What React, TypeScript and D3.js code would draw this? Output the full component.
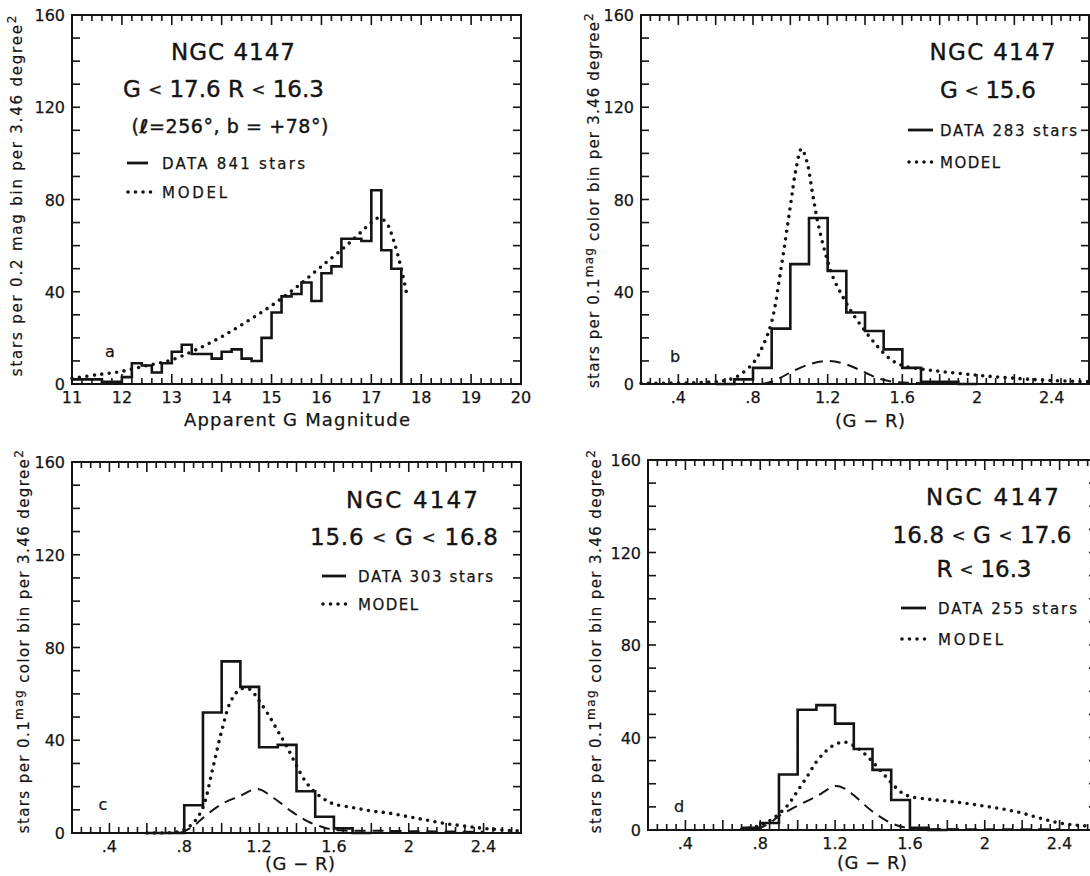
import React from 'react';
import * as d3 from 'd3';

const W = 1090;
const H = 876;
const FONT = "'DejaVu Sans', 'Liberation Sans', sans-serif";
const INK = '#141414';

// ---------- Panel a : apparent G magnitude ----------
const magBinStart = 11.0;
const magBinWidth = 0.2;
const magCounts = [2, 2, 2, 1, 1, 3, 9, 8, 5, 9, 14, 17, 13, 13, 11, 14, 15, 11, 10, 20, 31, 38, 39, 44, 36, 48, 51, 63, 63, 62, 84, 58, 50];
const magModel: [number, number][] = [
  [11, 2.5], [11.5, 4], [12, 5.5], [12.5, 8], [13, 10.5], [13.5, 15], [14, 20.5], [14.5, 27], [15, 34],
  [15.5, 42], [16, 51], [16.5, 60], [16.8, 66], [17, 70], [17.15, 72], [17.3, 70], [17.45, 62], [17.6, 50], [17.7, 40],
];
const magTickLabels = [11, 12, 13, 14, 15, 16, 17, 18, 19, 20];

// ---------- colour panels (G - R) ----------
const colorBinWidth = 0.1;
const colorTickLabels = [0.4, 0.8, 1.2, 1.6, 2.0, 2.4];
const yTickLabels = [0, 40, 80, 120, 160];

// panel b : G < 15.6
const bBinStart = 0.6;
const bCounts = [0, 2, 7, 24, 52, 72, 49, 31, 23, 15, 7, 1, 1, 0];
const bModel: [number, number][] = [
  [0.2, 0.3], [0.5, 0.6], [0.65, 1.5], [0.72, 3.5], [0.8, 9], [0.85, 16], [0.9, 27], [0.95, 50], [1.0, 77],
  [1.03, 93], [1.06, 102], [1.09, 96], [1.12, 82], [1.15, 69], [1.19, 56], [1.23, 46], [1.28, 38], [1.33, 31],
  [1.4, 23], [1.47, 16], [1.54, 10.5], [1.6, 8], [1.7, 6.5], [1.8, 5.5], [2.0, 3.8], [2.2, 2.5], [2.4, 1.5], [2.6, 1],
];
const bHalo: [number, number][] = [
  [0.85, 0], [0.9, 1], [0.95, 2.8], [1.0, 5], [1.1, 8.5], [1.2, 10], [1.3, 8.5], [1.4, 5], [1.47, 2.5],
  [1.55, 1], [1.65, 0.5], [1.9, 0.3],
];

// panel c : 15.6 < G < 16.8
const cBinStart = 0.6;
const cCounts = [0, 0, 12, 52, 74, 63, 37, 38, 18, 7, 2, 0];
const cModel: [number, number][] = [
  [0.6, 0], [0.75, 0.3], [0.8, 1.5], [0.85, 4.5], [0.9, 11], [0.95, 27], [1.0, 44], [1.05, 57], [1.1, 62],
  [1.15, 62], [1.2, 57], [1.25, 51], [1.3, 44], [1.35, 37], [1.4, 29], [1.45, 22], [1.5, 17.5], [1.55, 14.5],
  [1.6, 12.5], [1.7, 11], [1.8, 9.5], [1.9, 8.5], [2.0, 7], [2.1, 5.5], [2.2, 4], [2.3, 3], [2.4, 2], [2.5, 1.3], [2.6, 0.8],
];
const cHalo: [number, number][] = [
  [0.78, 0], [0.85, 3], [0.9, 6.5], [1.0, 12.5], [1.1, 16], [1.19, 19], [1.28, 15], [1.37, 9.5], [1.46, 5],
  [1.55, 2.3], [1.63, 1.2], [1.8, 1], [2.0, 0.8], [2.4, 0.5],
];

// panel d : 16.8 < G < 17.6, R < 16.3
const dBinStart = 0.7;
const dCounts = [1, 3, 24, 52, 54, 46, 35, 26, 13, 1, 0];
const dModel: [number, number][] = [
  [0.7, 0.3], [0.8, 2], [0.85, 4], [0.9, 7], [0.95, 11], [1.0, 17], [1.05, 23], [1.1, 29.5], [1.15, 34],
  [1.2, 37], [1.25, 38], [1.3, 36.5], [1.35, 33.5], [1.4, 29.5], [1.45, 25], [1.5, 20.5], [1.55, 16.5],
  [1.6, 14.5], [1.7, 13.3], [1.8, 12.5], [1.9, 11.5], [2.0, 10.3], [2.1, 9], [2.2, 7.3], [2.3, 5], [2.4, 3],
  [2.5, 2], [2.6, 1.5],
];
const dHalo: [number, number][] = [
  [0.78, 0], [0.85, 3], [0.9, 6], [1.0, 10.5], [1.1, 14.5], [1.2, 19], [1.25, 18], [1.3, 15], [1.4, 8],
  [1.5, 3], [1.6, 0.7], [1.8, 0.4], [2.4, 0.3],
];

type Box = { l: number; r: number; t: number; b: number };

const colorFmt = (v: number) => {
  const s = d3.format('.1f')(v);
  if (s.endsWith('.0')) return s.slice(0, -2);
  return s.startsWith('0') ? s.slice(1) : s;
};

// render "<" smaller, like the hand lettering of the original
function withSmallLt(s: string, size: number) {
  const parts = s.split('<');
  const out: any[] = [];
  parts.forEach((p, i) => {
    if (i > 0) out.push(<tspan key={'lt' + i} fontSize={size * 0.72} dy={-2}>{'<'}</tspan>);
    out.push(<tspan key={'p' + i} dy={i > 0 ? 2 : 0}>{p}</tspan>);
  });
  return out;
}

function T(props: any) {
  const { x, y, size = 16, anchor = 'start', len, children, weight, bold = 0.25 } = props;
  return (
    <text x={x} y={y} fontSize={size} textAnchor={anchor} fontFamily={FONT} fill={INK}
      stroke={INK} strokeWidth={bold}
      fontWeight={weight}
      textLength={len} lengthAdjust={len ? 'spacing' : undefined}>{children}</text>
  );
}

function Panel(props: any) {
  const { box, xDomain, minorStep, majorEvery, xLabels, fmt, binStart, binWidth, counts, model, halo,
    tickLabelY, xTitle, xTitleX, xTitleY, xTitleLen } = props;
  const box_: Box = box;
  const x = d3.scaleLinear().domain(xDomain).range([box_.l, box_.r]);
  const y = d3.scaleLinear().domain([0, 160]).range([box_.b, box_.t]);

  const histPts: [number, number][] = counts.map((c: number, i: number) => [binStart + i * binWidth, c]);
  histPts.push([binStart + counts.length * binWidth, 0]);
  const stepLine = d3.line<[number, number]>().x(d => x(d[0])).y(d => y(d[1])).curve(d3.curveStepAfter);
  const smooth = d3.line<[number, number]>().x(d => x(d[0])).y(d => y(Math.max(0, d[1]))).curve(d3.curveCatmullRom.alpha(0.5));

  const nMinor = Math.round((xDomain[1] - xDomain[0]) / minorStep);
  const xTicks = d3.range(0, nMinor + 1).map(i => ({ v: xDomain[0] + i * minorStep, major: i % majorEvery === 0 }));
  const yTicks = d3.range(10, 160, 10);

  return (
    <g>
      {xTicks.map((t, i) => (
        <g key={'xt' + i}>
          <line x1={x(t.v)} x2={x(t.v)} y1={box_.b} y2={box_.b - (t.major ? 10 : 6)} stroke={INK} strokeWidth={1.6} />
          <line x1={x(t.v)} x2={x(t.v)} y1={box_.t} y2={box_.t + (t.major ? 10 : 6)} stroke={INK} strokeWidth={1.6} />
        </g>
      ))}
      {yTicks.map(v => (
        <g key={'yt' + v}>
          <line x1={box_.l} x2={box_.l + 8} y1={y(v)} y2={y(v)} stroke={INK} strokeWidth={1.6} />
          <line x1={box_.r} x2={box_.r - 8} y1={y(v)} y2={y(v)} stroke={INK} strokeWidth={1.6} />
        </g>
      ))}
      <rect x={box_.l} y={box_.t} width={box_.r - box_.l} height={box_.b - box_.t} fill="none" stroke={INK} strokeWidth={2} />
      {yTickLabels.map(v => (
        <T key={'yl' + v} x={box_.l - 7} y={y(v) + 6} anchor="end" size={16}>{String(v)}</T>
      ))}
      {xLabels.map((v: number) => (
        <T key={'xl' + v} x={x(v)} y={tickLabelY} anchor="middle" size={16}>{fmt(v)}</T>
      ))}
      <T x={xTitleX} y={xTitleY} anchor="middle" size={18} len={xTitleLen}>{xTitle}</T>
      {halo && <path d={smooth(halo) || ''} fill="none" stroke={INK} strokeWidth={2} strokeDasharray="11 7" />}
      <path d={smooth(model) || ''} fill="none" stroke={INK} strokeWidth={3.6} strokeLinecap="round" strokeDasharray="0 7.5" />
      <path d={stepLine(histPts) || ''} fill="none" stroke={INK} strokeWidth={2.6} />
      {props.children}
    </g>
  );
}

function Legend({ x1, x2, xt, y1, y2, data, lenData, lenModel }: any) {
  return (
    <g>
      <line x1={x1} x2={x2} y1={y1} y2={y1} stroke={INK} strokeWidth={2.8} />
      <T x={xt} y={y1 + 5.5} size={15} len={lenData}>{data}</T>
      <line x1={x1 + 1} x2={x2 + 4} y1={y2} y2={y2} stroke={INK} strokeWidth={3.6} strokeLinecap="round" strokeDasharray="0 7.5" />
      <T x={xt} y={y2 + 5.5} size={15} len={lenModel}>MODEL</T>
    </g>
  );
}

function YLabel({ x, y, spacing, mag }: any) {
  return (
    <text transform={`translate(${x},${y}) rotate(-90)`} textAnchor="middle" fontSize={15}
      fontFamily={FONT} fill={INK} stroke={INK} strokeWidth={0.2} letterSpacing={spacing}>
      {mag ? 'stars per 0.1' : 'stars per 0.2 mag bin per 3.46 degree'}
      {mag && <tspan dy={-6} fontSize={12}>mag</tspan>}
      {mag && <tspan dy={6}> color bin per 3.46 degree</tspan>}
      <tspan dy={-6} fontSize={12}>2</tspan>
    </text>
  );
}

export default function App() {
  const boxA: Box = { l: 72, r: 521, t: 15, b: 384 };
  const boxB: Box = { l: 641, r: 1089, t: 15, b: 384 };
  const boxC: Box = { l: 72, r: 521, t: 462, b: 833 };
  const boxD: Box = { l: 648, r: 1097, t: 460, b: 830 };
  const colorCommon = { xDomain: [0.2, 2.6], minorStep: 0.05, majorEvery: 4, xLabels: colorTickLabels, fmt: colorFmt, binWidth: colorBinWidth, xTitle: '(G − R)', xTitleLen: 70 };
  return (
    <svg width={W} height={H} viewBox={`0 0 ${W} ${H}`} style={{ position: 'absolute', left: 0, top: 0, background: '#fff' }}>
      <rect x={0} y={0} width={W} height={H} fill="#fff" />
      {/* Panel a */}
      <Panel box={boxA} xDomain={[11, 20]} minorStep={0.2} majorEvery={5} xLabels={magTickLabels} fmt={(v: number) => String(v)}
        binStart={magBinStart} binWidth={magBinWidth} counts={magCounts} model={magModel}
        tickLabelY={403} xTitle="Apparent G Magnitude" xTitleX={297} xTitleY={426} xTitleLen={226}>
        <T x={233} y={60} anchor="middle" size={23} len={124} bold={0.4}>NGC 4147</T>
        <T x={223.5} y={97} anchor="middle" size={23} len={201} bold={0.4}>{withSmallLt('G < 17.6  R < 16.3', 23)}</T>
        <T x={230} y={133} anchor="middle" size={19} len={197} bold={0.4}>(<tspan fontWeight="bold">ℓ</tspan>=256°, b = +78°)</T>
        <Legend x1={127} x2={148} xt={162} y1={163} y2={192} data="DATA 841 stars" lenData={143} lenModel={65} />
        <T x={110} y={357} anchor="middle" size={16}>a</T>
      </Panel>
      <YLabel x={22} y={195} spacing={1.8} mag={false} />

      {/* Panel b */}
      <Panel box={boxB} {...colorCommon} binStart={bBinStart} counts={bCounts} model={bModel} halo={bHalo}
        tickLabelY={403} xTitleX={870} xTitleY={427}>
        <T x={992.6} y={60} anchor="middle" size={23} len={126} bold={0.4}>NGC 4147</T>
        <T x={988} y={98} anchor="middle" size={23} len={96} bold={0.4}>{withSmallLt('G < 15.6', 23)}</T>
        <Legend x1={908} x2={933} xt={940} y1={130} y2={162} data="DATA 283 stars" lenData={137} lenModel={60} />
        <T x={675} y={362} anchor="middle" size={16}>b</T>
      </Panel>
      <YLabel x={599} y={200} spacing={1.2} mag={true} />

      {/* Panel c */}
      <Panel box={boxC} {...colorCommon} binStart={cBinStart} counts={cCounts} model={cModel} halo={cHalo}
        tickLabelY={852} xTitleX={300} xTitleY={870}>
        <T x={412} y={508} anchor="middle" size={23} len={132} bold={0.4}>NGC 4147</T>
        <T x={404} y={545} anchor="middle" size={23} len={188} bold={0.4}>{withSmallLt('15.6 < G < 16.8', 23)}</T>
        <Legend x1={322} x2={346} xt={358} y1={576} y2={604} data="DATA 303 stars" lenData={135} lenModel={60} />
        <T x={103} y={810} anchor="middle" size={16}>c</T>
      </Panel>
      <YLabel x={29} y={641} spacing={1.4} mag={true} />

      {/* Panel d */}
      <Panel box={boxD} {...colorCommon} binStart={dBinStart} counts={dCounts} model={dModel} halo={dHalo}
        tickLabelY={849} xTitleX={872} xTitleY={869}>
        <T x={992.5} y={505} anchor="middle" size={23} len={133} bold={0.4}>NGC 4147</T>
        <T x={982} y={543} anchor="middle" size={23} len={179} bold={0.4}>{withSmallLt('16.8 < G < 17.6', 23)}</T>
        <T x={984} y={577} anchor="middle" size={23} len={95} bold={0.4}>{withSmallLt('R < 16.3', 23)}</T>
        <Legend x1={901} x2={926} xt={938} y1={608} y2={639} data="DATA 255 stars" lenData={139} lenModel={65} />
        <T x={679} y={812} anchor="middle" size={16}>d</T>
      </Panel>
      <YLabel x={601} y={641} spacing={1.4} mag={true} />
    </svg>
  );
}
